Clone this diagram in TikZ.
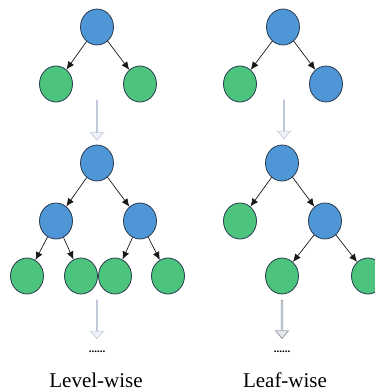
\documentclass[tikz,border=0pt]{standalone}
\usepackage{fontspec}
\setmainfont{Liberation Serif}
\usetikzlibrary{arrows.meta,shapes.geometric,shapes.arrows}
\definecolor{nodeblue}{RGB}{79,150,214}
\definecolor{nodegreen}{RGB}{76,196,126}
\definecolor{nodeline}{RGB}{40,58,78}
\definecolor{arrowfill}{RGB}{236,240,248}
\definecolor{arrowline}{RGB}{190,200,216}
\definecolor{arrowfillB}{RGB}{228,231,236}
\definecolor{arrowlineB}{RGB}{160,167,176}
\tikzset{
  treenode/.style={ellipse, draw=nodeline, line width=0.8pt, minimum width=33pt, minimum height=36pt, inner sep=0pt},
  bluenode/.style={treenode, fill=nodeblue},
  greennode/.style={treenode, fill=nodegreen},
  edge/.style={draw=black!90, line width=0.7pt, -{Latex[length=8pt,width=7pt]}},
  bigarrow/.style={single arrow, rotate=-90, draw=arrowline, fill=arrowfill, line width=0.6pt,
    minimum width=13pt, single arrow head extend=3.5pt, single arrow tip angle=80, inner sep=0pt, minimum height=#1},
  bigarrowB/.style={bigarrow=#1, draw=arrowlineB, fill=arrowfillB, line width=0.9pt},
  dotslabel/.style={font=\fontsize{11}{12}\selectfont\bfseries, inner sep=0pt},
  caption/.style={font=\fontsize{21}{24}\selectfont, inner sep=0pt}
}
\begin{document}
\begin{tikzpicture}[x=1pt,y=-1pt]
\useasboundingbox (0,0) rectangle (375,392);
% ---------- Level-wise ----------
\node[bluenode]  (A1) at (97,27) {};
\node[greennode] (A2) at (56,84) {};
\node[greennode] (A3) at (140,84) {};
\draw[edge] (A1) -- (A2);
\draw[edge] (A1) -- (A3);
\node[bigarrow=40pt] (AR1) at (97,120) {};

\node[bluenode]  (B1) at (97,163) {};
\node[bluenode]  (B2) at (56,221) {};
\node[bluenode]  (B3) at (140,221) {};
\node[greennode] (B4) at (27,276) {};
\node[greennode] (B5) at (81,276) {};
\node[greennode] (B6) at (115,276) {};
\node[greennode] (B7) at (168,276) {};
\draw[edge] (B1) -- (B2);
\draw[edge] (B1) -- (B3);
\draw[edge] (B2) -- (B4);
\draw[edge] (B2) -- (B5);
\draw[edge] (B3) -- (B6);
\draw[edge] (B3) -- (B7);
\node[bigarrow=39pt] (AR2) at (97,319) {};
\node[dotslabel] (dotsL) at (97,352) {......};
\node[caption] (capL) at (96,380) {Level-wise};

% ---------- Leaf-wise ----------
\node[bluenode]  (C1) at (283,27) {};
\node[greennode] (C2) at (240,84) {};
\node[bluenode]  (C3) at (326,84) {};
\draw[edge] (C1) -- (C2);
\draw[edge] (C1) -- (C3);
\node[bigarrow=39pt] (AR3) at (284,119) {};

\node[bluenode]  (D1) at (282,163) {};
\node[greennode] (D2) at (240,221) {};
\node[bluenode]  (D3) at (325,221) {};
\node[greennode] (D4) at (282,276) {};
\node[greennode] (D5) at (368,276) {};
\draw[edge] (D1) -- (D2);
\draw[edge] (D1) -- (D3);
\draw[edge] (D3) -- (D4);
\draw[edge] (D3) -- (D5);
\node[bigarrowB=38pt] (AR4) at (282,319) {};
\node[dotslabel] (dotsR) at (282,352) {......};
\node[caption] (capR) at (285,380) {Leaf-wise};
\end{tikzpicture}
\end{document}
